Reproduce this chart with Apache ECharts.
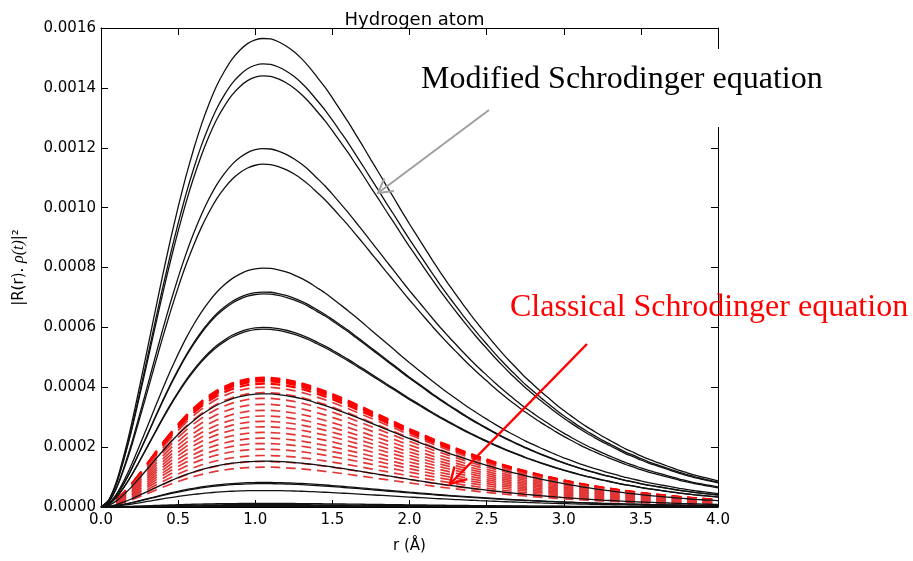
<!DOCTYPE html>
<html>
<head>
<meta charset="utf-8">
<script src="https://cdn.jsdelivr.net/npm/echarts@6/dist/echarts.min.js"></script>
<style>
  html, body { margin: 0; padding: 0; background: #ffffff; }
  #chart { width: 913px; height: 561px; }
</style>
</head>
<body>
<div id="chart"></div>
<script>
// ---- data ----
const rValues = [0.00, 0.05, 0.10, 0.15, 0.20, 0.25, 0.30, 0.35, 0.40, 0.45,
                 0.50, 0.55, 0.60, 0.65, 0.70, 0.75, 0.80, 0.85, 0.90, 0.95,
                 1.00, 1.05, 1.10, 1.15, 1.20, 1.25, 1.30, 1.35, 1.40, 1.45,
                 1.50, 1.55, 1.60, 1.65, 1.70, 1.75, 1.80, 1.85, 1.90, 1.95,
                 2.00, 2.05, 2.10, 2.15, 2.20, 2.25, 2.30, 2.35, 2.40, 2.45,
                 2.50, 2.55, 2.60, 2.65, 2.70, 2.75, 2.80, 2.85, 2.90, 2.95,
                 3.00, 3.05, 3.10, 3.15, 3.20, 3.25, 3.30, 3.35, 3.40, 3.45,
                 3.50, 3.55, 3.60, 3.65, 3.70, 3.75, 3.80, 3.85, 3.90, 3.95, 4.00];
// common profile of every curve (relative to its own peak)
const profile = [0.000, 0.015, 0.054, 0.112, 0.180, 0.257, 0.336, 0.416, 0.495, 0.570,
                 0.640, 0.705, 0.763, 0.815, 0.860, 0.899, 0.930, 0.956, 0.975, 0.989,
                 0.997, 1.000, 0.999, 0.993, 0.984, 0.972, 0.957, 0.939, 0.918, 0.897,
                 0.873, 0.848, 0.823, 0.796, 0.769, 0.741, 0.714, 0.686, 0.659, 0.631,
                 0.604, 0.578, 0.552, 0.526, 0.501, 0.477, 0.454, 0.431, 0.409, 0.388,
                 0.368, 0.348, 0.329, 0.311, 0.294, 0.277, 0.262, 0.247, 0.233, 0.219,
                 0.206, 0.194, 0.182, 0.171, 0.161, 0.151, 0.142, 0.133, 0.124, 0.117,
                 0.109, 0.102, 0.096, 0.090, 0.084, 0.078, 0.073, 0.068, 0.064, 0.060, 0.056];
// peak heights of the modified-equation curves (black, solid)
const modifiedPeaks = [0.001565, 0.001480, 0.001440, 0.001197, 0.001145, 0.000798,
                       0.000718, 0.000712, 0.000600, 0.000594, 0.000378, 0.000153,
                       0.000082, 0.000078, 0.000055, 0.000012, 0.000008, 0.000005, 0.000002];
// peak heights of the classical-equation curves (red, dashed)
const classicalPeaks = [0.000432, 0.000428, 0.000425, 0.000420, 0.000412, 0.000400,
                        0.000382, 0.000363, 0.000343, 0.000323, 0.000304, 0.000286,
                        0.000268, 0.000249, 0.000230, 0.000212, 0.000193, 0.000172,
                        0.000152, 0.000133];
const xTickLabels = ['0.0', '0.5', '1.0', '1.5', '2.0', '2.5', '3.0', '3.5', '4.0'];
const yTickLabels = ['0.0000', '0.0002', '0.0004', '0.0006', '0.0008', '0.0010', '0.0012', '0.0014', '0.0016'];
const titleText = 'Hydrogen atom';
const xName = 'r (Å)';
const modifiedLabel = 'Modified Schrodinger equation';
const classicalLabel = 'Classical Schrodinger equation';

// ---- chart ----
const chart = echarts.init(document.getElementById('chart'), null, { renderer: 'canvas' });
const AX = '#000000';
const FONT = '"DejaVu Sans", sans-serif';
const SERIF = '"Liberation Serif", "Times New Roman", serif';

function curve(peak) {
  return rValues.map((r, i) => [r, profile[i] * peak]);
}
// point triples of one curve, one per 0.1 step: [r0, v0, r1, v1, r2, v2]
function dashes(peak) {
  const out = [];
  for (let i = 0; i + 2 < rValues.length; i += 2) {
    out.push([rValues[i], profile[i] * peak, rValues[i + 1], profile[i + 1] * peak,
              rValues[i + 2], profile[i + 2] * peak]);
  }
  return out;
}

const series = [];
classicalPeaks.forEach((p, k) => {
  const strong = k < 5;
  series.push({
    type: 'custom', name: 'classical' + k, data: dashes(p), silent: true, z: 2, clip: true,
    xAxisIndex: 0, yAxisIndex: 0,
    encode: { x: [0, 2, 4], y: [1, 3, 5] },
    renderItem: function (params, api) {
      const a = api.coord([api.value(0), api.value(1)]);
      const b = api.coord([api.value(2), api.value(3)]);
      const c = api.coord([api.value(4), api.value(5)]);
      const f = 0.24;
      return {
        type: 'polyline',
        shape: { points: [a, b, [b[0] + f * (c[0] - b[0]), b[1] + f * (c[1] - b[1])]] },
        style: { stroke: strong ? '#ff0000' : '#e23636', lineWidth: strong ? 2.2 : 1.7,
                 lineCap: 'butt', lineJoin: 'round', fill: null }
      };
    }
  });
});
modifiedPeaks.forEach((p, i) => {
  series.push({
    type: 'line', name: 'modified' + i, data: curve(p), showSymbol: false, smooth: 0.2,
    xAxisIndex: 0, yAxisIndex: 0, silent: true, z: 3,
    lineStyle: { color: '#111111', width: 1.3 }
  });
});

function arrow(x0, y0, x1, y1, len, color, width) {
  const dx = x0 - x1, dy = y0 - y1, d = Math.hypot(dx, dy);
  const ux = dx / d, uy = dy / d, a = Math.PI / 6;
  const w1 = [x1 + len * (ux * Math.cos(a) - uy * Math.sin(a)), y1 + len * (ux * Math.sin(a) + uy * Math.cos(a))];
  const w2 = [x1 + len * (ux * Math.cos(-a) - uy * Math.sin(-a)), y1 + len * (ux * Math.sin(-a) + uy * Math.cos(-a))];
  return [
    { type: 'polyline', z: 110, shape: { points: [[x0, y0], [x1, y1]] }, style: { stroke: color, lineWidth: width, fill: null } },
    { type: 'polyline', z: 110, shape: { points: [w1, [x1, y1], w2] }, style: { stroke: color, lineWidth: width, fill: null } }
  ];
}

const option = {
  backgroundColor: '#ffffff',
  animation: false,
  title: {
    text: titleText, left: 409.5, top: 6, textAlign: 'center',
    textStyle: { fontFamily: FONT, fontSize: 18, fontWeight: 'normal', color: '#000' }
  },
  grid: { left: 101, right: 195, top: 28, bottom: 54, containLabel: false },
  xAxis: [
    {
      type: 'value', min: 0, max: 4, interval: 0.5, position: 'bottom',
      name: xName, nameLocation: 'middle', nameGap: 32,
      nameTextStyle: { fontFamily: FONT, fontSize: 15, color: '#000' },
      axisLine: { show: true, onZero: false, lineStyle: { color: AX, width: 1 } },
      axisTick: { show: true, inside: true, length: 7, lineStyle: { color: AX } },
      axisLabel: { margin: 6, fontFamily: FONT, fontSize: 15, color: '#000',
                   formatter: v => xTickLabels[Math.round(v / 0.5)] },
      splitLine: { show: false }
    },
    {
      type: 'value', min: 0, max: 4, interval: 0.5, position: 'top',
      axisLine: { show: true, onZero: false, lineStyle: { color: AX, width: 1 } },
      axisTick: { show: true, inside: true, length: 7, lineStyle: { color: AX } },
      axisLabel: { show: false }, splitLine: { show: false }
    }
  ],
  yAxis: [
    {
      type: 'value', min: 0, max: 0.0016, interval: 0.0002, position: 'left',
      name: '{a||R(r). }{b|ρ(t)}{a||²}', nameLocation: 'middle', nameGap: 74, nameRotate: 90,
      nameTextStyle: {
        rich: {
          a: { fontFamily: FONT, fontSize: 15, color: '#000' },
          b: { fontFamily: SERIF, fontSize: 16, fontStyle: 'italic', color: '#000' }
        }
      },
      axisLine: { show: true, onZero: false, lineStyle: { color: AX, width: 1 } },
      axisTick: { show: true, inside: true, length: 7, lineStyle: { color: AX } },
      axisLabel: { margin: 5, fontFamily: FONT, fontSize: 15, color: '#000',
                   formatter: v => yTickLabels[Math.round(v / 0.0002)] },
      splitLine: { show: false }
    },
    {
      type: 'value', min: 0, max: 0.0016, interval: 0.0002, position: 'right',
      axisLine: { show: true, onZero: false, lineStyle: { color: AX, width: 1 } },
      axisTick: { show: true, inside: true, length: 7, lineStyle: { color: AX } },
      axisLabel: { show: false }, splitLine: { show: false }
    }
  ],
  series: series,
  graphic: {
    elements: [
      { type: 'rect', z: 100, shape: { x: 415, y: 49, width: 412, height: 78 }, style: { fill: '#ffffff' } },
      { type: 'text', z: 120, x: 421, y: 80,
        style: { text: modifiedLabel, font: '32px ' + SERIF, fill: '#000000',
                 textAlign: 'left', textVerticalAlign: 'middle', align: 'left', verticalAlign: 'middle' } },
      { type: 'text', z: 120, x: 510, y: 308,
        style: { text: classicalLabel, font: '32px ' + SERIF, fill: '#ff0000',
                 textAlign: 'left', textVerticalAlign: 'middle', align: 'left', verticalAlign: 'middle' } }
    ]
      .concat(arrow(489, 110, 378, 193, 16, '#a0a0a0', 2))
      .concat(arrow(587, 344, 450, 484, 18, '#ff0000', 2.5))
  }
};
chart.setOption(option);
</script>
</body>
</html>
